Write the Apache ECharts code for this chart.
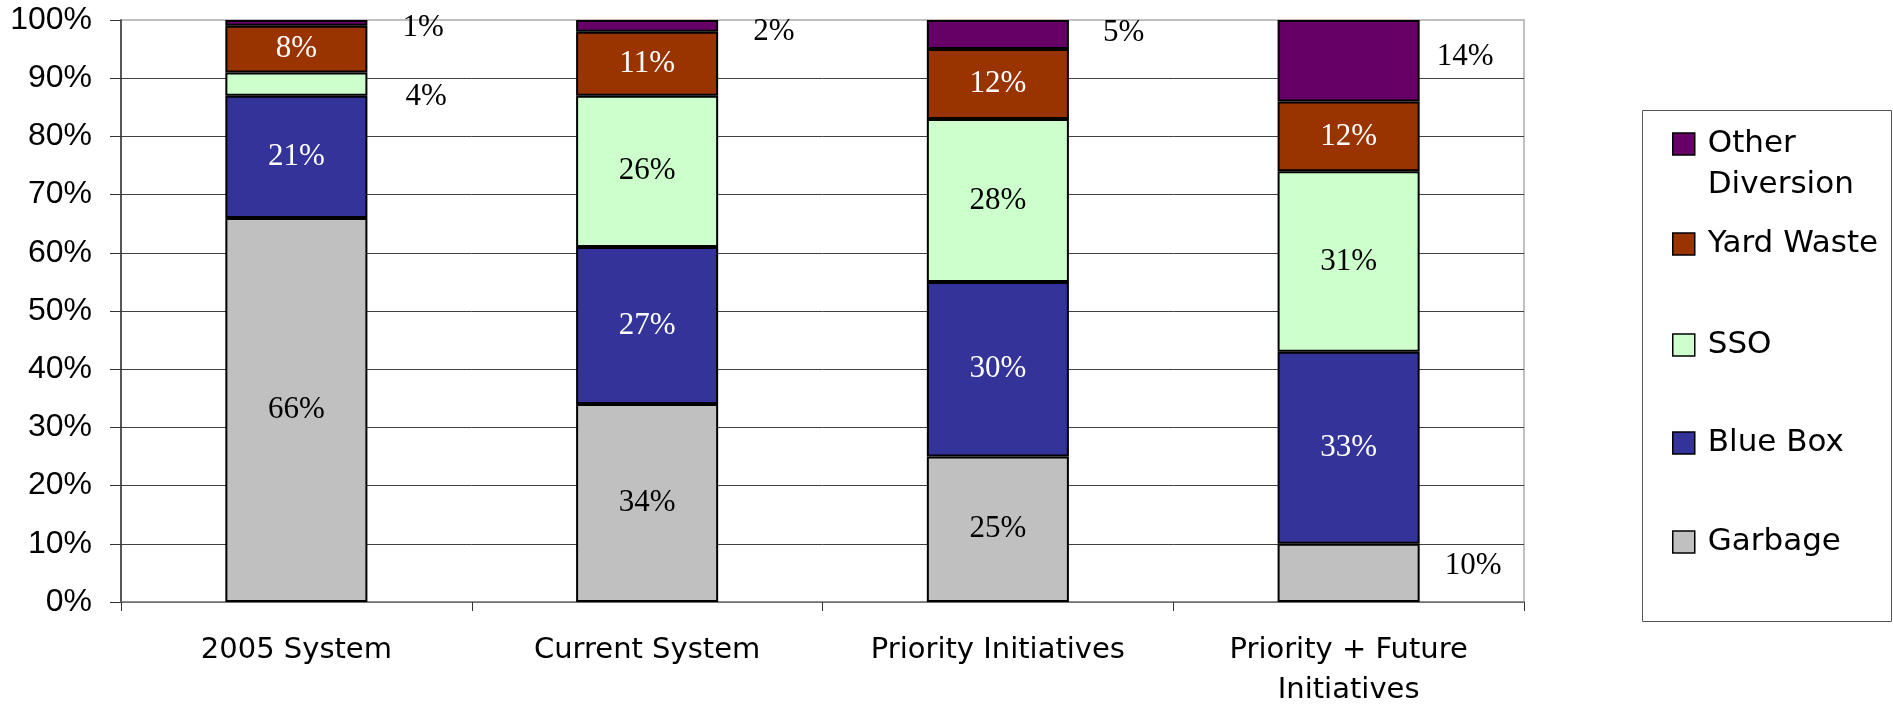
<!DOCTYPE html>
<html>
<head>
<meta charset="utf-8">
<style>
html,body{margin:0;padding:0;background:#fff;}
#chart{width:1893px;height:710px;}
</style>
<script src="https://cdn.jsdelivr.net/npm/echarts@6/dist/echarts.min.js"></script>
</head>
<body>
<div id="chart"></div>
<script>
const categories = ['2005 System', 'Current System', 'Priority Initiatives', 'Priority + Future\nInitiatives'];
const garbage = [66, 34, 25, 10];
const blueBox = [21, 27, 30, 33];
const sso = [4, 26, 28, 31];
const yardWaste = [8, 11, 12, 12];
const otherDiversion = [1, 2, 5, 14];
const seriesNames = ['Garbage', 'Blue Box', 'SSO', 'Yard Waste', 'Other Diversion'];
const legendLabels = ['Garbage', 'Blue Box', 'SSO', 'Yard Waste', '\u00a0\nOther\nDiversion'];

// styling
const colors = ['#C0C0C0', '#333399', '#CCFFCC', '#993300', '#660066'];
const labelColors = ['#000', '#fff', '#000', '#fff', '#fff'];
// outside-label placement: [distance, dy] per category index
const outsidePlacement = {
  'Other Diversion': {0: [35, 5], 1: [35, 6], 2: [34, -2], 3: [17, -4]},
  'SSO': {0: [38, 13]},
  'Garbage': {3: [25, -7]}
};
const legendCenters = {'Garbage': 542, 'Blue Box': 443, 'SSO': 345, 'Yard Waste': 244, 'Other Diversion': 144};
const legendLineHeight = 41;

const values = [garbage, blueBox, sso, yardWaste, otherDiversion];

const series = seriesNames.map((name, si) => {
  const place = outsidePlacement[name] || {};
  return {
    name: name,
    type: 'bar',
    stack: 'total',
    barWidth: '40.5%',
    itemStyle: {color: colors[si], borderColor: '#000', borderWidth: 2},
    label: {
      show: true,
      position: 'inside',
      formatter: '{c}%',
      fontFamily: 'Liberation Serif',
      fontSize: 31,
      color: labelColors[si]
    },
    data: values[si].map((v, ci) => {
      const p = place[ci];
      if (!p) return v;
      return {
        value: v,
        label: {position: 'right', distance: p[0], offset: [0, p[1]], color: '#000'}
      };
    })
  };
});

const legends = seriesNames.map((name, si) => {
  const lines = legendLabels[si].split('\n').length;
  return {
    data: [name],
    orient: 'vertical',
    left: 1672,
    top: legendCenters[name] - lines * legendLineHeight / 2,
    padding: 0,
    itemWidth: 22,
    itemHeight: 22,
    icon: 'rect',
    selectedMode: false,
    itemStyle: {borderColor: '#000', borderWidth: 1.5},
    formatter: () => legendLabels[si],
    textStyle: {
      fontFamily: 'DejaVu Sans',
      fontSize: 31,
      lineHeight: legendLineHeight,
      color: '#000',
      padding: [0, 0, 0, 8]
    }
  };
});

const chart = echarts.init(document.getElementById('chart'));
chart.setOption({
  animation: false,
  backgroundColor: '#fff',
  grid: {left: 121, right: 369, top: 20, bottom: 101, show: true, borderColor: '#c0c0c0', borderWidth: 2, backgroundColor: 'transparent'},
  legend: legends,
  graphic: [{
    type: 'rect',
    shape: {x: 1642.5, y: 110.5, width: 249, height: 511},
    style: {fill: 'none', stroke: '#555', lineWidth: 1},
    z: -1
  }],
  xAxis: {
    type: 'category',
    data: categories,
    axisLine: {lineStyle: {color: '#808080', width: 1.5}},
    axisTick: {show: true, length: 9, lineStyle: {color: '#333'}},
    axisLabel: {fontFamily: 'DejaVu Sans', fontSize: 29, lineHeight: 40, color: '#000', margin: 28, interval: 0}
  },
  yAxis: {
    type: 'value',
    min: 0,
    max: 100,
    interval: 10,
    axisLine: {show: true, lineStyle: {color: '#333', width: 1.5}},
    axisTick: {show: true, length: 11, lineStyle: {color: '#333'}},
    axisLabel: {formatter: '{value}%', fontFamily: 'Liberation Sans', fontSize: 32, color: '#000', margin: 29},
    splitLine: {show: true, showMaxLine: false, lineStyle: {color: '#404040', width: 1}}
  },
  series: series
});
</script>
</body>
</html>
